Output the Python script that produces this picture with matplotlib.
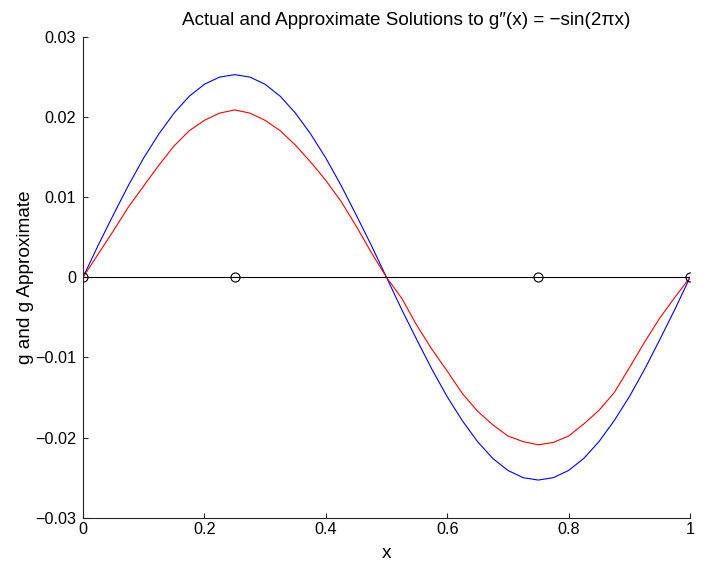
import matplotlib
matplotlib.use('Agg')
import matplotlib.pyplot as plt
import numpy as np

plt.rcParams['font.family'] = ['Liberation Sans', 'DejaVu Sans']

# sample points along x
x = [0.0, 0.025, 0.05, 0.075, 0.1, 0.125, 0.15, 0.175, 0.2, 0.225,
     0.25, 0.275, 0.3, 0.325, 0.35, 0.375, 0.4, 0.425, 0.45, 0.475,
     0.5, 0.525, 0.55, 0.575, 0.6, 0.625, 0.65, 0.675, 0.7, 0.725,
     0.75, 0.775, 0.8, 0.825, 0.85, 0.875, 0.9, 0.925, 0.95, 0.975, 1.0]

# actual solution (blue)
g_actual = [0.0, 0.0040, 0.0078, 0.0115, 0.0149, 0.0179, 0.0205, 0.0226, 0.0241, 0.0250,
            0.0253, 0.0250, 0.0241, 0.0226, 0.0205, 0.0179, 0.0149, 0.0115, 0.0078, 0.0040,
            0.0, -0.0040, -0.0078, -0.0115, -0.0149, -0.0179, -0.0205, -0.0226, -0.0241, -0.0250,
            -0.0253, -0.0250, -0.0241, -0.0226, -0.0205, -0.0179, -0.0149, -0.0115, -0.0078, -0.0040, 0.0]

# approximate solution (red)
g_approx = [0.0, 0.0029, 0.0058, 0.0088, 0.0114, 0.0140, 0.0164, 0.0183, 0.0196, 0.0205,
            0.0209, 0.0205, 0.0196, 0.0183, 0.0165, 0.0144, 0.0121, 0.0095, 0.0064, 0.0031,
            0.0, -0.0026, -0.0060, -0.0090, -0.0117, -0.0145, -0.0167, -0.0184, -0.0198, -0.0205,
            -0.0209, -0.0206, -0.0198, -0.0183, -0.0166, -0.0144, -0.0113, -0.0081, -0.0051, -0.0025, 0.0]

# nodes shown as circles on the zero line
nodes_x = [0.0, 0.25, 0.75, 1.0]
nodes_y = [0.0, 0.0, 0.0, 0.0]

xticks = [0, 0.2, 0.4, 0.6, 0.8, 1]
xticklabels = ['0', '0.2', '0.4', '0.6', '0.8', '1']
yticks = [-0.03, -0.02, -0.01, 0, 0.01, 0.02, 0.03]
yticklabels = ['\u22120.03', '\u22120.02', '\u22120.01', '0', '0.01', '0.02', '0.03']

fig = plt.figure(figsize=(7.08, 5.65), dpi=100)
ax = fig.add_axes([0.1172, 0.0837, 0.8574, 0.8508])

ax.plot(x, g_actual, color='blue', lw=0.8)
ax.plot(x, g_approx, color='red', lw=0.8)
ax.plot(nodes_x, nodes_y, color='black', lw=0.8, marker='o', markersize=6.5,
        markerfacecolor='none', markeredgecolor='black', markeredgewidth=0.8)

ax.set_xlim(0, 1)
ax.set_ylim(-0.03, 0.03)
ax.set_xticks(xticks)
ax.set_xticklabels(xticklabels)
ax.set_yticks(yticks)
ax.set_yticklabels(yticklabels)

# matlab "box off" look
ax.spines['top'].set_visible(False)
ax.spines['right'].set_visible(False)
for s in ['left', 'bottom']:
    ax.spines[s].set_linewidth(0.8)
    ax.spines[s].set_color('#262626')
ax.tick_params(direction='in', length=3.6, width=0.8, color='#262626', labelsize=11.7)
ax.tick_params(axis='y', pad=5)
ax.tick_params(axis='x', pad=3)

ax.set_xlabel('x', fontsize=13.7, labelpad=6)
ax.set_ylabel('g and g Approximate', fontsize=13.7, labelpad=1)
ax.set_title('Actual and Approximate Solutions to g\u2033(x) = \u2212sin(2\u03c0x)',
             fontsize=13.6, x=0.533, pad=9)

fig.savefig('out.png', dpi=100)
